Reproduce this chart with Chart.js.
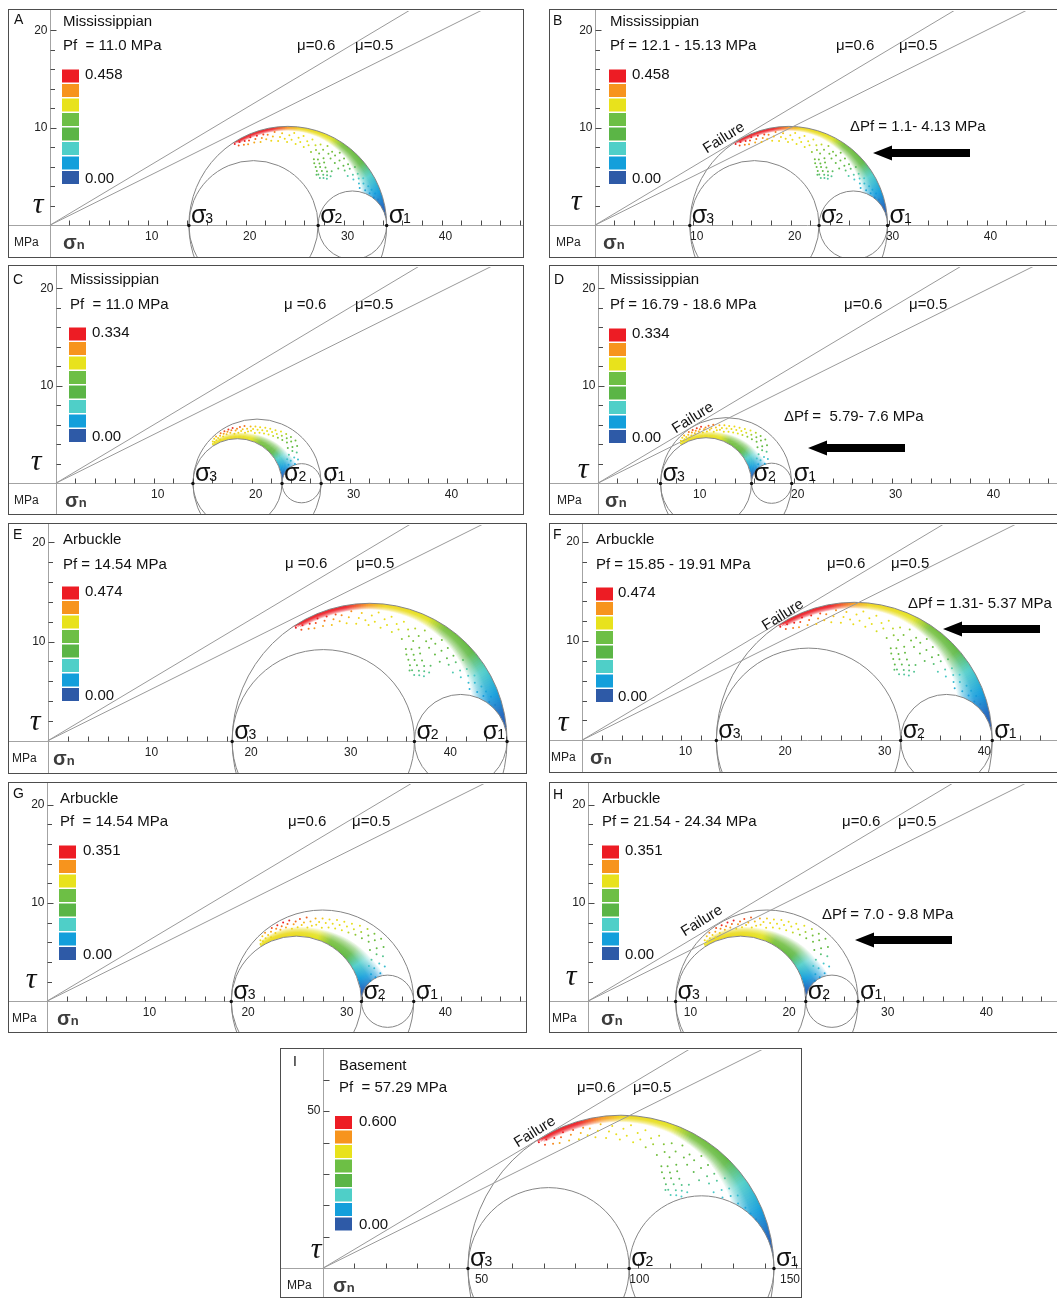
<!DOCTYPE html>
<html lang="en">
<head>
<meta charset="UTF-8">
<title>Mohr circles - slip tendency</title>
<script src="https://cdn.jsdelivr.net/npm/chart.js"></script>
<style>
  html, body { margin: 0; padding: 0; overflow: hidden; background: #fff; }
  body { width: 1057px; height: 1299px; position: relative; }
  .panel { position: absolute; box-sizing: border-box; border: 1px solid #4d4d4d; background: #fff; }
  .panel canvas { display: block; }
</style>
</head>
<body>
<script>
// values (MPa)
const panelLetters = ['A', 'B', 'C', 'D', 'E', 'F', 'G', 'H', 'I'];
const formations = ['Mississippian', 'Mississippian', 'Mississippian', 'Mississippian', 'Arbuckle', 'Arbuckle', 'Arbuckle', 'Arbuckle', 'Basement'];
const pfLabels = ['Pf  = 11.0 MPa', 'Pf = 12.1 - 15.13 MPa', 'Pf  = 11.0 MPa', 'Pf = 16.79 - 18.6 MPa', 'Pf = 14.54 MPa',
                  'Pf = 15.85 - 19.91 MPa', 'Pf  = 14.54 MPa', 'Pf = 21.54 - 24.34 MPa', 'Pf  = 57.29 MPa'];
const deltaPfLabels = [null, 'ΔPf = 1.1- 4.13 MPa', null, 'ΔPf =  5.79- 7.6 MPa', null, 'ΔPf = 1.31- 5.37 MPa', null, 'ΔPf = 7.0 - 9.8 MPa', null];
const sigma1 = [34.4, 29.9, 27.1, 19.8, 46.1, 41.2, 37.2, 27.4, 143.0];
const sigma2 = [27.4, 22.9, 23.1, 15.7, 36.8, 32.0, 31.9, 22.1, 97.1];
const sigma3 = [14.2, 9.7, 14.0, 6.4, 18.5, 13.5, 18.7, 8.9, 46.0];
const slipTendencyMax = [0.458, 0.458, 0.334, 0.334, 0.474, 0.474, 0.351, 0.351, 0.600];
// panel whose stress state the colours were computed for (shifted panels keep their colours)
const colourState = [0, 0, 2, 2, 4, 4, 6, 6, 8];
// true: planes crowd the sigma3-sigma1 circle, false: they crowd the sigma3-sigma2 circle
const cloudOnOuterCircle = [true, true, false, false, true, true, false, false, true];
const frictionCoefficients = [0.6, 0.5];
const muLabels = ['μ=0.6', 'μ=0.5'];
const muLabelsSpaced = ['μ =0.6', 'μ=0.5'];
const xTickLabelsSediment = [10, 20, 30, 40];
const xTickLabelsBasement = [50, 100, 150];
const yTickLabelsSediment = [10, 20];
const yTickLabelsBasement = [50];

// scattered planes, [angle on the crowded circle in degrees, radius as a fraction of that circle]
const outerCloud = [
  [123, 0.985], [121.5, 0.95], [120, 0.975], [118.5, 0.93], [117, 0.96], [116, 0.915], [114.5, 0.945], [113, 0.97],
  [112, 0.905], [110.5, 0.935], [109, 0.96], [108, 0.89], [106.5, 0.925], [105, 0.955], [104, 0.9],
  [102.5, 0.94], [101, 0.875], [99.5, 0.915], [98, 0.955], [96.5, 0.86], [95, 0.9], [93.5, 0.935], [92, 0.88],
  [90.5, 0.845], [89, 0.915], [87.5, 0.87], [86, 0.94], [84.5, 0.83], [83, 0.895], [81.5, 0.855], [80, 0.92],
  [78.5, 0.81], [77, 0.875], [75.5, 0.84], [74, 0.905], [72.5, 0.78], [71, 0.86], [69.5, 0.815], [68, 0.885],
  [66.5, 0.795], [65, 0.845], [63.5, 0.9], [62, 0.77], [60.5, 0.835], [59, 0.87], [57.5, 0.805], [56, 0.855],
  [54.5, 0.905], [53, 0.79], [51.5, 0.84], [50, 0.885], [48.5, 0.77], [47, 0.825], [45.5, 0.87], [44, 0.8],
  [42.5, 0.85], [41, 0.9], [39.5, 0.785], [38, 0.835], [36.5, 0.88], [35, 0.81], [33.5, 0.86], [32, 0.9],
  [30.5, 0.835], [29, 0.875], [27.5, 0.82], [26, 0.905], [24.5, 0.86], [23, 0.92], [21.5, 0.89], [20, 0.94],
  [18, 0.915], [16, 0.95],
  [68.5, 0.72], [67, 0.685], [65.5, 0.735], [64.5, 0.655], [63, 0.705], [62, 0.625], [61, 0.675], [60, 0.735],
  [59, 0.6], [58, 0.65], [57, 0.7], [56, 0.58], [55, 0.625], [54, 0.675], [53, 0.6], [52, 0.645], [51, 0.705],
  [50, 0.615], [49, 0.66], [60.5, 0.59]
];
const innerCloud = [
  [122, 1.04], [120.5, 1.09], [119, 1.06], [117.5, 1.13], [116, 1.08], [114.5, 1.16], [113, 1.11], [111.5, 1.06],
  [110, 1.14], [108.5, 1.19], [107, 1.1], [105.5, 1.16], [104, 1.21], [102.5, 1.13], [101, 1.18], [99.5, 1.23],
  [98, 1.15], [96.5, 1.2], [95, 1.25], [93.5, 1.12], [92, 1.19], [90.5, 1.23], [89, 1.14], [87.5, 1.27],
  [86, 1.18], [84.5, 1.22], [83, 1.3], [81.5, 1.15], [80, 1.25], [78.5, 1.19], [77, 1.31], [75.5, 1.22],
  [74, 1.27], [72.5, 1.34], [71, 1.2], [69.5, 1.29], [68, 1.36], [66.5, 1.24], [65, 1.32], [63.5, 1.4],
  [62, 1.27], [60.5, 1.35], [59, 1.43], [57.5, 1.3], [56, 1.39], [54.5, 1.47], [53, 1.33], [51.5, 1.42],
  [50, 1.52], [48.5, 1.37], [47, 1.46], [45.5, 1.56], [44, 1.4], [42.5, 1.5], [41, 1.59], [39.5, 1.44],
  [38, 1.53], [36.5, 1.62], [35, 1.38], [33.5, 1.48], [32, 1.58], [30.5, 1.43], [29, 1.32], [27.5, 1.5],
  [26, 1.24], [24.5, 1.4], [23, 1.3], [21.5, 1.46], [20, 1.22], [18.5, 1.36], [17, 1.27], [15.5, 1.18], [14, 1.31]
];
// thickness of the dense band of planes along the crowded circle
const bandAngles = [0, 10, 20, 30, 40, 50, 60, 70, 80, 90, 100, 110, 120, 124];
const outerBandDepth = [0.25, 0.24, 0.2, 0.16, 0.13, 0.1, 0.08, 0.06, 0.05, 0.045, 0.045, 0.045, 0.04, 0];
const innerBandDepth = [0.5, 0.45, 0.38, 0.32, 0.28, 0.24, 0.2, 0.17, 0.15, 0.14, 0.13, 0.11, 0.08, 0];

// layout, page pixels
const frames = [
  { L: 8, T: 9, R: 524, B: 258, ox: 49, oy: 226, k: 9.83, letter: [14, 20], title: [63, 22], pf: [63, 46], mu: [[297, 46], [355, 46]], legend: [62, 76], legendText: 85, tau: [38, 213], mpa: 14, sn: 63 },
  { L: 549, T: 9, R: 1066, B: 258, ox: 594, oy: 226, k: 9.83, letter: [553, 21], title: [610, 22], pf: [610, 46], mu: [[836, 46], [899, 46]], legend: [609, 76], legendText: 632, tau: [576, 210], mpa: 556, sn: 603, failure: [724, 138], dpf: [850, 127], arrow: [970, 873, 153] },
  { L: 8, T: 265, R: 524, B: 515, ox: 55, oy: 484, k: 9.83, letter: [13, 280], title: [70, 280], pf: [70, 305], mu: [[284, 305], [355, 305]], spacedMu: true, legend: [69, 334], legendText: 92, tau: [36, 470], mpa: 14, sn: 65 },
  { L: 549, T: 265, R: 1066, B: 515, ox: 597, oy: 484, k: 9.83, letter: [554, 280], title: [610, 280], pf: [610, 305], mu: [[844, 305], [909, 305]], legend: [609, 335], legendText: 632, tau: [583, 478], mpa: 557, sn: 605, failure: [693, 418], dpf: [784, 417], arrow: [905, 808, 448] },
  { L: 8, T: 523, R: 527, B: 774, ox: 47, oy: 741.5, k: 10.0, letter: [13, 535], title: [63, 540], pf: [63, 565], mu: [[285, 564], [356, 564]], spacedMu: true, legend: [62, 593], legendText: 85, tau: [35, 730], mpa: 12, sn: 53, sigma1Left: true },
  { L: 549, T: 523, R: 1066, B: 773, ox: 581, oy: 741, k: 10.0, letter: [553, 535], title: [596, 540], pf: [596, 565], mu: [[827, 564], [891, 564]], legend: [596, 594], legendText: 618, tau: [563, 731], mpa: 551, sn: 590, failure: [783, 615], dpf: [908, 604], arrow: [1040, 943, 629] },
  { L: 8, T: 782, R: 527, B: 1033, ox: 46, oy: 1002, k: 9.9, letter: [13, 794], title: [60, 799], pf: [60, 822], mu: [[288, 822], [352, 822]], legend: [59, 852], legendText: 83, tau: [31, 988], mpa: 12, sn: 57 },
  { L: 549, T: 782, R: 1066, B: 1033, ox: 587, oy: 1002, k: 9.9, letter: [553, 795], title: [602, 799], pf: [602, 822], mu: [[842, 822], [898, 822]], legend: [602, 852], legendText: 625, tau: [571, 985], mpa: 552, sn: 601, failure: [702, 921], dpf: [822, 915], arrow: [952, 855, 940] },
  { L: 280, T: 1048, R: 802, B: 1298, ox: 322, oy: 1269, k: 3.167, letter: [293, 1062], title: [339, 1066], pf: [339, 1088], mu: [[577, 1088], [633, 1088]], legend: [335, 1122.5], legendText: 359, tau: [316, 1258], mpa: 287, sn: 333, failure: [535, 1132] }
];

const FONT = '"Liberation Sans", Arial, Helvetica, sans-serif';
const legendColours = ['#ed1c24', '#f7941d', '#e8e21c', '#6dbf45', '#5bb546', '#4fcfc8', '#139fdb', '#2e5aa7'];
const rampStops = [
  [0.00, [43, 79, 160]], [0.12, [36, 104, 190]], [0.22, [20, 158, 220]], [0.34, [78, 205, 200]],
  [0.44, [95, 185, 70]], [0.60, [120, 192, 60]], [0.68, [226, 226, 30]], [0.85, [240, 214, 26]],
  [0.90, [247, 148, 29]], [0.95, [237, 28, 36]], [1.00, [237, 28, 36]]
];
const RAD = Math.PI / 180;

function rampColour(t) {
  t = Math.max(0, Math.min(1, t));
  for (let j = 1; j < rampStops.length; j++) {
    if (t <= rampStops[j][0]) {
      const [t0, c0] = rampStops[j - 1], [t1, c1] = rampStops[j];
      const f = (t - t0) / (t1 - t0);
      return c0.map((v, n) => Math.round(v + (c1[n] - v) * f));
    }
  }
  return rampStops[rampStops.length - 1][1];
}
const rgb = (c, w = 0) => 'rgb(' + c.map(v => Math.round(v + (255 - v) * w)).join(',') + ')';

function circles(i) {
  return {
    outer: [(sigma1[i] + sigma3[i]) / 2, (sigma1[i] - sigma3[i]) / 2],
    left: [(sigma2[i] + sigma3[i]) / 2, (sigma2[i] - sigma3[i]) / 2],
    right: [(sigma1[i] + sigma2[i]) / 2, (sigma1[i] - sigma2[i]) / 2]
  };
}
const baseCircle = i => cloudOnOuterCircle[i] ? circles(i).outer : circles(i).left;

function insideRegion(i, s, t) {
  const g = circles(i);
  const d = c => Math.hypot(s - c[0], t);
  return d(g.outer) <= g.outer[1] && d(g.left) >= g.left[1] && d(g.right) >= g.right[1];
}

// colour by slip tendency tau/sigma_n in the reference stress state
function slipColour(i, deg, rho) {
  const [c, R] = baseCircle(colourState[i]);
  const ts = R * rho * Math.sin(deg * RAD) / (c + R * rho * Math.cos(deg * RAD));
  return rampColour(ts / slipTendencyMax[i]);
}

function bandDepth(i, deg) {
  const depth = cloudOnOuterCircle[i] ? outerBandDepth : innerBandDepth;
  for (let j = 1; j < bandAngles.length; j++) {
    if (deg <= bandAngles[j]) {
      const f = (deg - bandAngles[j - 1]) / (bandAngles[j] - bandAngles[j - 1]);
      return depth[j - 1] + (depth[j] - depth[j - 1]) * f;
    }
  }
  return 0;
}

function cloudDataset(i) {
  const [c, R] = baseCircle(i);
  const cloud = cloudOnOuterCircle[i] ? outerCloud : innerCloud;
  const data = [], colours = [];
  cloud.forEach(([deg, rho]) => {
    const s = c + R * rho * Math.cos(deg * RAD), t = R * rho * Math.sin(deg * RAD);
    if (!insideRegion(i, s, t)) return;
    data.push({ x: s, y: t });
    colours.push(rgb(slipColour(i, deg, rho)));
  });
  return { label: 'planes', data, backgroundColor: colours, pointRadius: 1, pointHoverRadius: 0, borderWidth: 0 };
}

function text(ctx, str, x, y, font, align = 'left', base = 'middle', colour = '#111') {
  ctx.font = font;
  ctx.fillStyle = colour;
  ctx.textAlign = align;
  ctx.textBaseline = base;
  ctx.fillText(str, x, y);
}

const mohrPlugin = {
  id: 'mohr',
  beforeDatasetsDraw(chart) {
    const i = +chart.canvas.dataset.panel;
    const { ctx, scales: { x, y } } = chart;
    const W = chart.width, H = chart.height;
    const px = v => x.getPixelForValue(v), py = v => y.getPixelForValue(v);
    const k = px(1) - px(0);
    const ax = Math.round(px(0)) + 0.5, ay = Math.round(py(0)) + 0.5;
    const g = circles(i);
    ctx.save();

    // dense band of planes, kept between the circles
    ctx.save();
    ctx.beginPath();
    [g.outer, g.left, g.right].forEach(([c, r]) => {
      ctx.moveTo(px(c) + r * k, py(0));
      ctx.arc(px(c), py(0), r * k, 0, Math.PI * 2);
    });
    ctx.clip('evenodd');
    const [bc, bR] = baseCircle(i);
    const cx = px(bc), cy = py(0), Rp = bR * k;
    const onOuter = cloudOnOuterCircle[i];
    const P = (deg, rho) => [cx + Rp * rho * Math.cos(deg * RAD), cy - Rp * rho * Math.sin(deg * RAD)];
    for (let d = 0; d < 124; d++) {
      const w = bandDepth(i, d + 0.5);
      if (w <= 0) continue;
      const far = onOuter ? 1 - w : 1 + w;
      const col = slipColour(i, d + 0.5, onOuter ? 1 - w * 0.25 : 1 + w * 0.25);
      const a0 = d - 0.35, a1 = d + 1.35;
      const p1 = P(a0, 1), p2 = P(a1, 1), p3 = P(a1, far), p4 = P(a0, far);
      const m1 = P(d + 0.5, 1), m2 = P(d + 0.5, far);
      const grad = ctx.createLinearGradient(m1[0], m1[1], m2[0], m2[1]);
      grad.addColorStop(0, rgb(col));
      grad.addColorStop(0.4, rgb(col, 0.12));
      grad.addColorStop(0.75, rgb(col, 0.5));
      grad.addColorStop(1, rgb(col, 0.92));
      ctx.fillStyle = grad;
      ctx.beginPath();
      ctx.moveTo(p1[0], p1[1]); ctx.lineTo(p2[0], p2[1]); ctx.lineTo(p3[0], p3[1]); ctx.lineTo(p4[0], p4[1]);
      ctx.closePath();
      ctx.fill();
    }
    ctx.restore();

    // axes through the origin
    ctx.strokeStyle = '#a3a3a3';
    ctx.lineWidth = 1;
    ctx.beginPath();
    ctx.moveTo(0, ay); ctx.lineTo(W, ay);
    ctx.moveTo(ax, 0); ctx.lineTo(ax, H);
    ctx.stroke();

    // Mohr circles
    ctx.strokeStyle = '#858585';
    [g.outer, g.left, g.right].forEach(([c, r]) => {
      ctx.beginPath();
      ctx.arc(px(c), py(0), r * k, 0, Math.PI * 2);
      ctx.stroke();
    });

    // ticks
    const basement = i === 8;
    const step = basement ? 10 : 2;
    const yTop = basement ? 60 : 20;
    ctx.strokeStyle = '#4a4a4a';
    ctx.beginPath();
    for (let j = 1; j * step <= x.max; j++) {
      const X = Math.round(px(j * step)) + 0.5;
      ctx.moveTo(X, ay); ctx.lineTo(X, ay - 5);
    }
    for (let j = 1; j * step <= yTop; j++) {
      const Y = Math.round(py(j * step)) + 0.5;
      ctx.moveTo(ax, Y); ctx.lineTo(ax + ((j * step) % 10 === 0 ? 6 : 4.5), Y);
    }
    ctx.stroke();

    ctx.font = '12px ' + FONT;
    (basement ? xTickLabelsBasement : xTickLabelsSediment).forEach(v => {
      const half = ctx.measureText(String(v)).width / 2;
      const X = Math.min(px(v) + (basement ? 1 : 4), W - half - 1);
      text(ctx, String(v), X, ay + 11, '12px ' + FONT, 'center', 'middle', '#222');
    });
    (basement ? yTickLabelsBasement : yTickLabelsSediment).forEach(v => {
      text(ctx, String(v), ax - 3, py(v), '12px ' + FONT, 'right', 'middle', '#222');
    });
    ctx.restore();
  },
  afterDatasetsDraw(chart) {
    const i = +chart.canvas.dataset.panel;
    const f = frames[i];
    const { ctx, scales: { x, y } } = chart;
    const px = v => x.getPixelForValue(v), py = v => y.getPixelForValue(v);
    const ay = Math.round(py(0)) + 0.5;
    const lx = v => v - f.x0, ly = v => v - f.y0;
    ctx.save();

    // principal stresses on the axis
    [[sigma3[i], '3'], [sigma2[i], '2'], [sigma1[i], '1']].forEach(([s, dig]) => {
      const X = px(s);
      ctx.fillStyle = '#111';
      ctx.beginPath(); ctx.arc(X, ay, 1.7, 0, Math.PI * 2); ctx.fill();
      ctx.font = '25px ' + FONT;
      const wS = ctx.measureText('σ').width;
      ctx.font = '14px ' + FONT;
      const wD = ctx.measureText(dig).width;
      const left = (dig === '1' && f.sigma1Left) ? X - 2 - (wS + wD - 1) : X + 2;
      text(ctx, 'σ', left, ay - 3, '25px ' + FONT, 'left', 'alphabetic');
      text(ctx, dig, left + wS - 1, ay - 3, '14px ' + FONT, 'left', 'alphabetic');
    });

    // labels
    text(ctx, panelLetters[i], lx(f.letter[0]), ly(f.letter[1]), '14px ' + FONT);
    text(ctx, formations[i], lx(f.title[0]), ly(f.title[1]), '15px ' + FONT);
    text(ctx, pfLabels[i], lx(f.pf[0]), ly(f.pf[1]), '15px ' + FONT);
    const muText = f.spacedMu ? muLabelsSpaced : muLabels;
    f.mu.forEach((p, j) => text(ctx, muText[j], lx(p[0]), ly(p[1]), '15px ' + FONT));
    text(ctx, 'τ', lx(f.tau[0]), ly(f.tau[1]), 'italic 30px "Liberation Serif", "DejaVu Serif", serif', 'center', 'alphabetic');
    text(ctx, 'MPa', lx(f.mpa), ay + 17, '12px ' + FONT, 'left', 'middle', '#222');
    ctx.font = 'bold 20px ' + FONT;
    const wSn = ctx.measureText('σ').width;
    text(ctx, 'σ', lx(f.sn), ay + 23, 'bold 20px ' + FONT, 'left', 'alphabetic', '#3c3c3c');
    text(ctx, 'n', lx(f.sn) + wSn, ay + 23, 'bold 13px ' + FONT, 'left', 'alphabetic', '#3c3c3c');

    // slip tendency legend
    const lgx = lx(f.legend[0]), lgy = ly(f.legend[1]);
    legendColours.forEach((c, j) => {
      ctx.fillStyle = c;
      ctx.fillRect(lgx, lgy + j * 14.5 - 6.5, 17, 13);
    });
    text(ctx, slipTendencyMax[i].toFixed(3), lx(f.legendText), lgy - 1, '15px ' + FONT);
    text(ctx, '0.00', lx(f.legendText), lgy + 7 * 14.5 + 1, '15px ' + FONT);

    if (f.failure) {
      ctx.save();
      ctx.translate(lx(f.failure[0]), ly(f.failure[1]));
      ctx.rotate(-32 * RAD);
      text(ctx, 'Failure', 0, 0, '15px ' + FONT, 'center', 'middle');
      ctx.restore();
    }
    if (deltaPfLabels[i]) text(ctx, deltaPfLabels[i], lx(f.dpf[0]), ly(f.dpf[1]), '15px ' + FONT);
    if (f.arrow) {
      const [tail, tip, ay2] = f.arrow;
      const t = lx(tail), p = lx(tip), yy = ly(ay2);
      ctx.fillStyle = '#000';
      ctx.beginPath();
      ctx.moveTo(t, yy - 4); ctx.lineTo(p + 19, yy - 4); ctx.lineTo(p + 19, yy - 7.5);
      ctx.lineTo(p, yy); ctx.lineTo(p + 19, yy + 7.5); ctx.lineTo(p + 19, yy + 4); ctx.lineTo(t, yy + 4);
      ctx.closePath();
      ctx.fill();
    }
    ctx.restore();
  }
};

panelLetters.forEach((letter, i) => {
  const f = frames[i];
  const wrap = document.createElement('div');
  wrap.className = 'panel';
  wrap.style.left = f.L + 'px';
  wrap.style.top = f.T + 'px';
  wrap.style.width = (f.R - f.L) + 'px';
  wrap.style.height = (f.B - f.T) + 'px';
  const canvas = document.createElement('canvas');
  canvas.width = f.R - f.L - 2;
  canvas.height = f.B - f.T - 2;
  canvas.dataset.panel = i;
  wrap.appendChild(canvas);
  document.body.appendChild(wrap);

  f.x0 = f.L + 1;
  f.y0 = f.T + 1;
  const xMin = (f.x0 - f.ox) / f.k, xMax = (f.x0 + canvas.width - f.ox) / f.k;
  const yMax = (f.oy - f.y0) / f.k, yMin = (f.oy - (f.y0 + canvas.height)) / f.k;

  const muSets = frictionCoefficients.map((mu, j) => ({
    label: muLabels[j],
    data: [{ x: 0, y: 0 }, { x: xMax, y: mu * xMax }],
    showLine: true,
    borderColor: '#9a9a9a',
    borderWidth: 1,
    pointRadius: 0,
    pointHoverRadius: 0
  }));

  new Chart(canvas.getContext('2d'), {
    type: 'scatter',
    data: { datasets: [cloudDataset(i), ...muSets] },
    options: {
      responsive: false,
      animation: false,
      events: [],
      layout: { padding: 0 },
      plugins: { legend: { display: false }, tooltip: { enabled: false } },
      scales: {
        x: { type: 'linear', min: xMin, max: xMax, display: false },
        y: { type: 'linear', min: yMin, max: yMax, display: false }
      }
    },
    plugins: [mohrPlugin]
  });
});
</script>
</body>
</html>
